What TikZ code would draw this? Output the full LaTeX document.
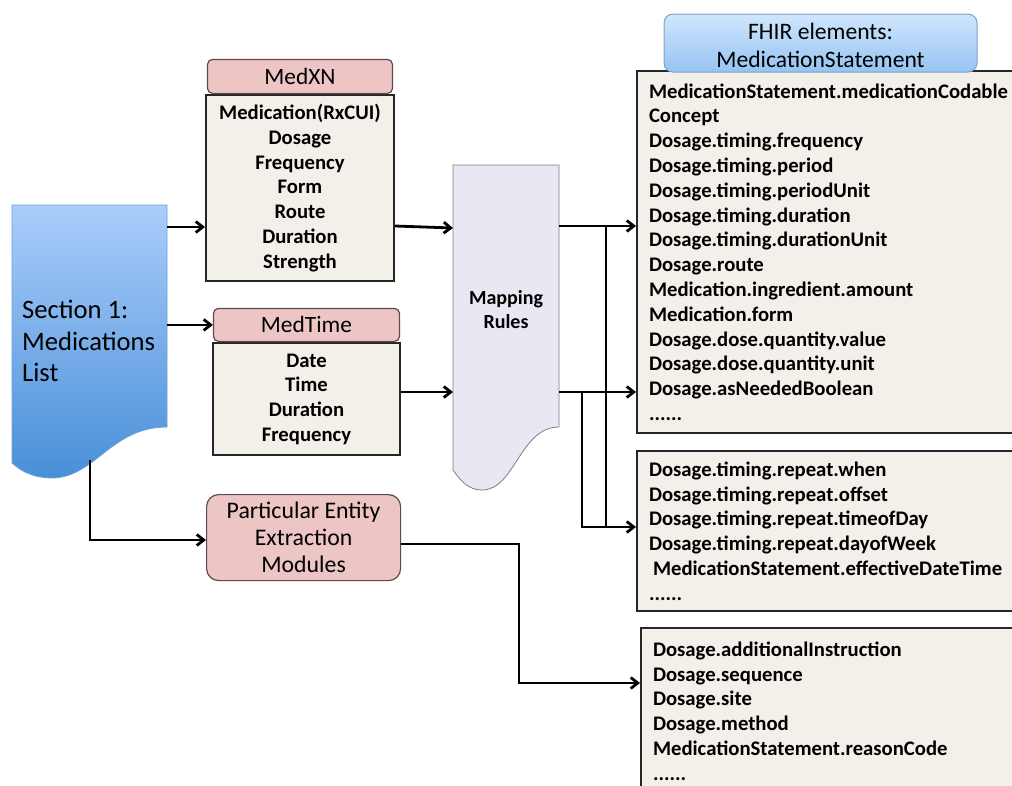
\documentclass[tikz,border=0pt]{standalone}
\usepackage{fontspec}
\setmainfont{Carlito}
\usetikzlibrary{arrows.meta}
\usetikzlibrary{positioning}

\definecolor{pinkhead}{RGB}{236,197,196}
\definecolor{pinkline}{RGB}{95,75,75}
\definecolor{listfill}{RGB}{243,239,233}
\definecolor{mapfill}{RGB}{233,231,242}
\definecolor{mapline}{RGB}{125,125,135}
\definecolor{secTop}{RGB}{170,205,250}
\definecolor{secBot}{RGB}{72,143,216}
\definecolor{secLine}{RGB}{110,160,215}
\definecolor{fhirTop}{RGB}{208,230,252}
\definecolor{fhirBot}{RGB}{150,196,242}
\definecolor{fhirLine}{RGB}{125,160,205}

\tikzset{
	conn/.style = {line width=2.8pt, black},
	arr/.style = {conn, ->},
	headbox/.style = {draw=pinkline, line width=1.2pt, fill=pinkhead, rounded corners=5pt,
		inner sep=0pt, font=\fontsize{23.4}{27}\selectfont},
	listbox/.style = {draw=black!85, line width=2pt, fill=listfill, inner sep=0pt,
		align=center, font=\fontsize{20.7}{24.7}\selectfont\bfseries},
	fhirbox/.style = {draw=black!85, line width=2pt, fill=listfill, inner xsep=12pt,
		inner ysep=0pt, align=left, font=\fontsize{20.7}{24.8}\selectfont\bfseries}
}

\begin{document}
\begin{tikzpicture}[x=1pt, y=-1pt, >={Straight Barb[length=7pt,width=11pt]}]
	\useasboundingbox (0,0) rectangle (1012,785);
	\clip (0,0) rectangle (1012,785);

	%%% Section 1 (document shape)
	\shade[top color=secTop, bottom color=secBot, draw=secLine, line width=0.8pt]
		(12,205) -- (167,205) -- (167,427)
		.. controls (110,427) and (95,479) .. (50,478)
		.. controls (30,477) and (20,470) .. (12,463) -- cycle;
	\node[anchor=north west, minimum width=155pt, minimum height=258pt, inner sep=0pt] (sec) at (12,205) {};
	\node[anchor=west, align=left, inner sep=0pt, font=\fontsize{26.6}{31.5}\selectfont] (sectxt) at (22,341)
		{Section 1:\\Medications\\List};

	%%% Mapping Rules (document shape)
	\draw[fill=mapfill, draw=mapline, line width=0.8pt]
		(453,165) -- (559,165) -- (559,427)
		.. controls (520,427) and (515,490) .. (482,490)
		.. controls (468,490) and (460,480) .. (453,470) -- cycle;
	\node[anchor=north west, minimum width=106pt, minimum height=305pt, inner sep=0pt] (map) at (453,165) {};
	\node[align=center, inner sep=0pt, font=\fontsize{20}{24}\selectfont\bfseries] (maptxt) at (506,310)
		{Mapping\\Rules};

	%%% MedXN
	\node[listbox, anchor=north west, minimum width=188pt, minimum height=186pt] (medxn) at (205,94)
		{Medication(RxCUI)\\Dosage\\Frequency\\Form\\Route\\Duration\\Strength};
	\node[headbox, anchor=south, minimum width=185pt, minimum height=34pt] (medxnh) at (medxn.north)
		{MedXN};

	%%% MedTime
	\node[listbox, anchor=north west, minimum width=187pt, minimum height=112pt] (medtime) at (212,342)
		{Date\\Time\\Duration\\Frequency};
	\node[headbox, anchor=south, minimum width=186pt, minimum height=33pt] (medtimeh) at (medtime.north)
		{MedTime};

	%%% Particular Entity Extraction Modules
	\node[headbox, rounded corners=12pt, anchor=north west, minimum width=194pt, minimum height=86pt,
		align=center, font=\fontsize{23.8}{27}\selectfont] (pem) at (206,494)
		{Particular Entity\\Extraction\\Modules};

	%%% FHIR lists
	\node[fhirbox, anchor=north west, text width=352pt, minimum height=362pt] (fhirA) at (636,70)
		{\mbox{MedicationStatement.medicationCodable}\\Concept\\Dosage.timing.frequency\\Dosage.timing.period\\
		Dosage.timing.periodUnit\\Dosage.timing.duration\\Dosage.timing.durationUnit\\Dosage.route\\
		Medication.ingredient.amount\\Medication.form\\Dosage.dose.quantity.value\\
		Dosage.dose.quantity.unit\\Dosage.asNeededBoolean\\......};
	\node[fhirbox, anchor=north west, text width=352pt, minimum height=160pt] (fhirB) at (636,450)
		{Dosage.timing.repeat.when\\Dosage.timing.repeat.offset\\Dosage.timing.repeat.timeofDay\\
		Dosage.timing.repeat.dayofWeek\\\hspace*{4pt}\mbox{MedicationStatement.effectiveDateTime}\\......};
	\node[fhirbox, anchor=north west, text width=348pt, minimum height=166pt] (fhirC) at (640,627)
		{Dosage.additionalInstruction\\Dosage.sequence\\Dosage.site\\Dosage.method\\
		MedicationStatement.reasonCode\\......};

	%%% FHIR header
	\shade[top color=fhirTop, bottom color=fhirBot, draw=fhirLine, line width=1pt, rounded corners=9pt]
		(664,14) rectangle (977,72);
	\node[align=center, inner sep=0pt, font=\fontsize{23.6}{28}\selectfont] (fhirh) at (820.5,45)
		{FHIR elements:\\MedicationStatement};

	%%% Connectors
	\draw[arr] (sec.east |- 0,227) -- (medxn.west |- 0,227);
	\draw[arr] (sec.east |- medtimeh.west) -- (medtimeh.west);
	\draw[arr] (90,460) |- (pem.west |- 0,540);
	\draw[arr] (medxn.east |- 0,226) -- (map.west |- 0,228);
	\draw[arr] (medtime.east |- 0,392) -- (map.west |- 0,392);
	\draw[arr] (map.east |- 0,226) -- (fhirA.west |- 0,226);
	\draw[arr] (map.east |- 0,392) -- (fhirA.west |- 0,392);
	\draw[conn] (606,226) -- (606,527);
	\draw[arr] (582,392) |- (fhirB.west |- 0,527);
	\draw[arr] (pem.east |- 0,544) -| (519,683) -- (fhirC.west |- 0,683);
\end{tikzpicture}
\end{document}
